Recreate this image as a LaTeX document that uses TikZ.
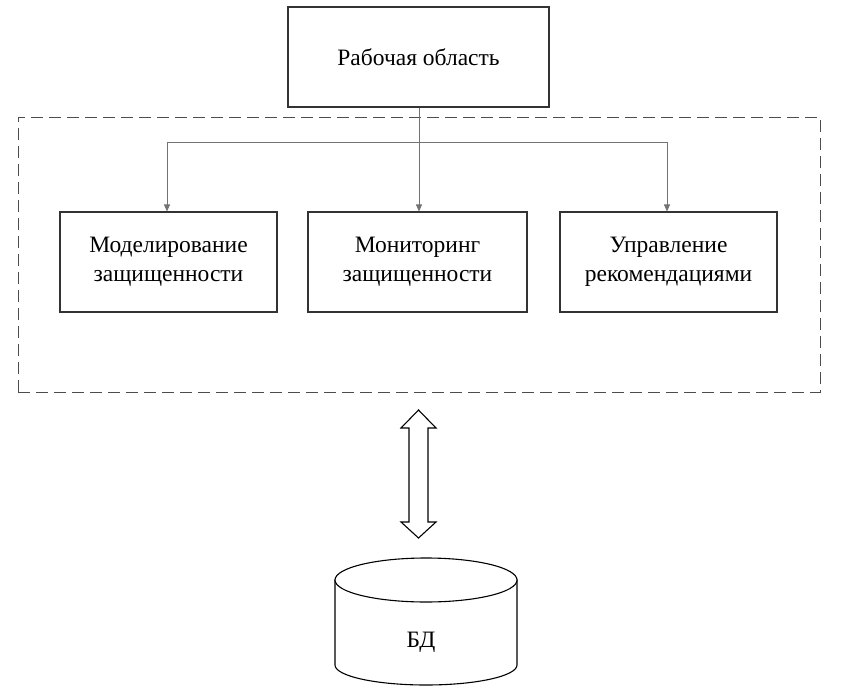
\documentclass[tikz,border=0pt]{standalone}
\usepackage{fontspec}
\setmainfont{Liberation Serif}
\usetikzlibrary{arrows.meta}
\begin{document}
\begin{tikzpicture}[x=1pt,y=-1pt,
  box/.style={draw=black!80,line width=1.1pt,fill=white,inner sep=0pt,align=center,font=\fontsize{23.5}{29}\selectfont},
  conn/.style={draw=black!55,line width=0.9pt},
  arr/.style={conn,-{Triangle[width=6pt,length=7pt]}}]
\useasboundingbox (0,0) rectangle (848,690);
\fill[white] (0,0) rectangle (848,690);
\node[draw=black!70,dashed,dash pattern=on 12pt off 6pt,line width=0.9pt,minimum width=802pt,minimum height=275pt,inner sep=0pt] (area) at (419,254.5) {};
\node[box,minimum width=261pt,minimum height=100pt] (top) at (418.5,57) {Рабочая область};
\node[box,minimum width=217pt,minimum height=100pt] (m1) at (168.5,262) {Моделирование\\защищенности};
\node[box,minimum width=219pt,minimum height=100pt] (m2) at (417.5,262) {Мониторинг\\защищенности};
\node[box,minimum width=217pt,minimum height=100pt] (m3) at (668.5,262) {Управление\\рекомендациями};
\coordinate (j) at (419,142);
\coordinate (jl) at (167,142);
\coordinate (jr) at (667,142);
\draw[conn] (top.south -| j) -- (j);
\draw[conn] (jl) -- (jr);
\draw[arr] (j) -- (m2.north -| j);
\draw[arr] (jl) -- (m1.north -| jl);
\draw[arr] (jr) -- (m3.north -| jr);
% double arrow
\coordinate (dtop) at (418.5,410);
\coordinate (dbot) at (418.5,538);
\draw[line width=1.1pt,fill=white,line join=miter]
  (dtop) -- (436,428) -- (428,428) -- (428,522) -- (436,522) -- (dbot)
  -- (401,522) -- (409,522) -- (409,428) -- (401,428) -- cycle;
% cylinder
\draw[line width=1.1pt,fill=white] (335,580) -- (335,665) arc[start angle=180,end angle=0,x radius=91,y radius=20] -- (517,580) -- cycle;
\draw[line width=1.1pt,fill=white] (426,580) ellipse[x radius=91,y radius=22];
\node[font=\fontsize{23.5}{29}\selectfont] (db) at (421,642) {БД};
\end{tikzpicture}
\end{document}
